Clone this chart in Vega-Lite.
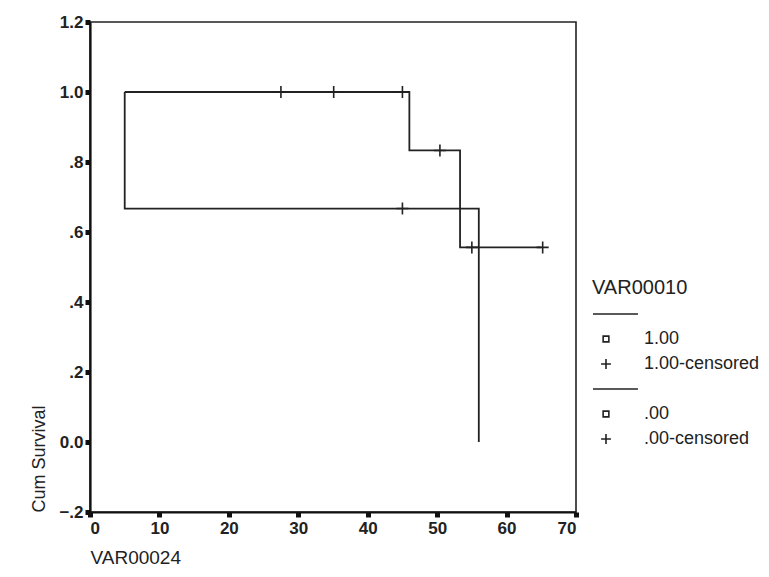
{
  "$schema": "https://vega.github.io/schema/vega-lite/v6.json",
  "width": 486,
  "height": 490,
  "autosize": "none",
  "padding": {"left": 90, "top": 22, "right": 193, "bottom": 65},
  "background": "white",
  "config": {
    "font": "Liberation Sans",
    "view": {"stroke": "#222", "strokeWidth": 1.6},
    "axis": {"grid": false}
  },
  "datasets": {
    "steps": [
      {"t": 5, "s": 1.0, "grp": "1.00"},
      {"t": 46, "s": 0.833, "grp": "1.00"},
      {"t": 53.3, "s": 0.556, "grp": "1.00"},
      {"t": 65, "s": 0.556, "grp": "1.00"},
      {"t": 5, "s": 1.0, "grp": ".00"},
      {"t": 5, "s": 0.667, "grp": ".00"},
      {"t": 56, "s": 0.0, "grp": ".00"}
    ],
    "censored": [
      {"t": 27.5, "s": 1.0, "kind": "1.00-censored"},
      {"t": 35.1, "s": 1.0, "kind": "1.00-censored"},
      {"t": 45.0, "s": 1.0, "kind": "1.00-censored"},
      {"t": 50.4, "s": 0.833, "kind": "1.00-censored"},
      {"t": 55.0, "s": 0.556, "kind": "1.00-censored"},
      {"t": 65.2, "s": 0.556, "kind": "1.00-censored"},
      {"t": 45.0, "s": 0.667, "kind": ".00-censored"}
    ]
  },
  "layer": [
    {
      "data": {"name": "steps"},
      "mark": {"type": "line", "interpolate": "step-after", "color": "#222", "strokeWidth": 1.8},
      "encoding": {
        "x": {
          "field": "t", "type": "quantitative",
          "scale": {"domain": [0, 70], "nice": false, "zero": false},
          "axis": {
            "values": [0, 10, 20, 30, 40, 50, 60, 70],
            "title": "VAR00024",
            "titleFont": "Liberation Sans", "titleFontSize": 19, "titleFontWeight": "normal", "titleColor": "#222",
            "titleAnchor": "start", "titleAlign": "left", "titlePadding": 12,
            "labelFont": "Liberation Sans", "labelFontSize": 17, "labelFontWeight": "bold", "labelColor": "#222",
            "labelPadding": 3, "tickSize": 5, "tickWidth": 5, "tickColor": "#111",
            "domainColor": "#111", "domainWidth": 2.2
          }
        },
        "y": {
          "field": "s", "type": "quantitative",
          "scale": {"domain": [-0.2, 1.2], "nice": false, "zero": false},
          "axis": {
            "values": [-0.2, 0, 0.2, 0.4, 0.6, 0.8, 1, 1.2],
            "labelExpr": "datum.value == 0 ? '0.0' : datum.value >= 1 ? format(datum.value, '.1f') : replace(format(datum.value, '.1f'), '0.', '.')",
            "title": "Cum Survival",
            "titleFont": "Liberation Sans", "titleFontSize": 18, "titleFontWeight": "normal", "titleColor": "#222",
            "titleAnchor": "start", "titlePadding": 10,
            "labelFont": "Liberation Sans", "labelFontSize": 17, "labelFontWeight": "bold", "labelColor": "#222",
            "labelPadding": 2, "tickSize": 5, "tickWidth": 5, "tickColor": "#111",
            "domainColor": "#111", "domainWidth": 2.2
          }
        },
        "detail": {"field": "grp", "type": "nominal"}
      }
    },
    {
      "data": {"name": "censored"},
      "mark": {"type": "point", "filled": false, "stroke": "#222", "strokeWidth": 1.6, "size": 1000, "opacity": 1},
      "encoding": {
        "x": {"field": "t", "type": "quantitative"},
        "y": {"field": "s", "type": "quantitative"},
        "shape": {
          "field": "kind", "type": "nominal",
          "scale": {
            "domain": ["sep1", "1.00", "1.00-censored", "sep2", ".00", ".00-censored"],
            "range": [
              "M-1,0H2.46",
              "M-0.22,-0.22H0.22V0.22H-0.22Z",
              "M-0.38,0H0.38M0,-0.38V0.38",
              "M-1,0H2.46",
              "M-0.22,-0.22H0.22V0.22H-0.22Z",
              "M-0.38,0H0.38M0,-0.38V0.38"
            ]
          },
          "legend": {
            "title": "VAR00010",
            "orient": "none",
            "legendX": 502,
            "legendY": 256,
            "padding": 0,
            "titleFont": "Liberation Sans", "titleFontSize": 20, "titleFontWeight": "normal", "titleColor": "#222",
            "titlePadding": 2,
            "labelFont": "Liberation Sans", "labelFontSize": 18, "labelColor": "#222",
            "labelOffset": 24,
            "labelExpr": "indexof(datum.label, 'sep') == 0 ? '' : datum.label",
            "symbolSize": 676,
            "symbolStrokeColor": "#222",
            "symbolFillColor": "transparent",
            "symbolStrokeWidth": 1.6,
            "rowPadding": 2
          }
        }
      }
    }
  ]
}
